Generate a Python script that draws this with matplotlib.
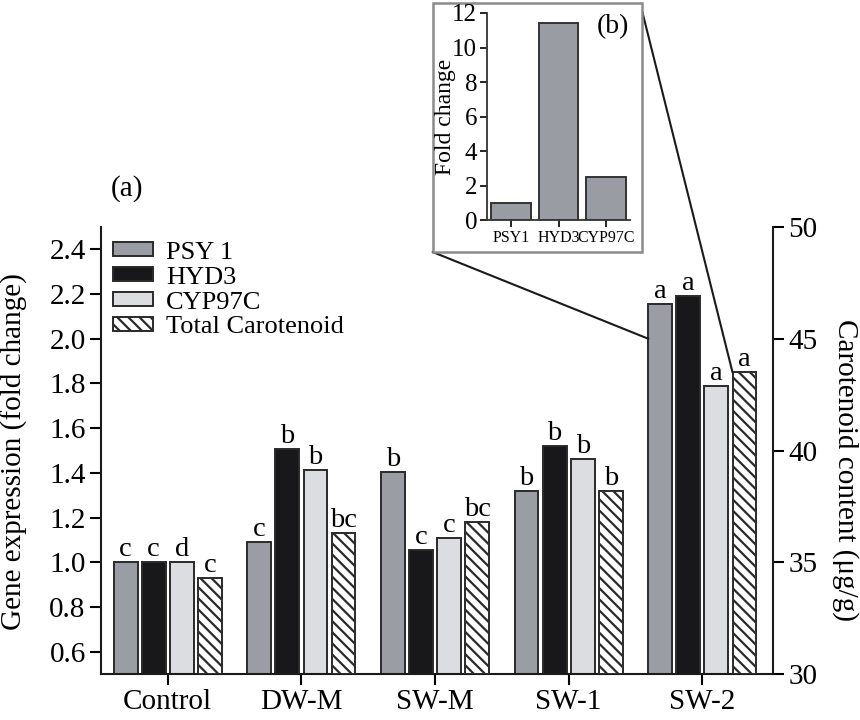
import matplotlib
matplotlib.use("Agg")
import matplotlib.pyplot as plt
from matplotlib.patches import Rectangle, ConnectionPatch
import numpy as np

plt.rcParams['font.family'] = ['Liberation Serif', 'DejaVu Serif']
plt.rcParams['hatch.linewidth'] = 1.6

# ---- data ----
groups = ["Control", "DW-M", "SW-M", "SW-1", "SW-2"]
psy1 = [1.00, 1.09, 1.405, 1.317, 2.156]
hyd3 = [1.00, 1.505, 1.055, 1.518, 2.19]
cyp97c = [1.00, 1.415, 1.11, 1.464, 1.79]
total_carotenoid = [34.3, 36.3, 36.8, 38.2, 43.5]   # µg/g (right axis)

letters_psy1 = ["c", "c", "b", "b", "a"]
letters_hyd3 = ["c", "b", "c", "b", "a"]
letters_cyp = ["d", "b", "c", "b", "a"]
letters_total = ["c", "bc", "bc", "b", "a"]

left_ticks = [0.6, 0.8, 1.0, 1.2, 1.4, 1.6, 1.8, 2.0, 2.2, 2.4]
right_ticks = [30, 35, 40, 45, 50]

inset_genes = ["PSY1", "HYD3", "CYP97C"]
inset_fold = [1.0, 11.4, 2.5]
inset_ticks = [0, 2, 4, 6, 8, 10, 12]

# ---- style ----
c_psy = "#9b9da4"
c_hyd = "#18181a"
c_cyp = "#dcdde0"
edge = "#2a2a2a"
pitch = 0.21
width = 0.178
fs_tick = 21
fs_let = 20.5

fig = plt.figure(figsize=(8.6, 7.2), dpi=100)
ax = fig.add_axes([0.1174, 0.0639, 0.7816, 0.6208])
ax.set_xlim(-0.5, 4.53)
ax.set_ylim(0.5, 2.5)
ax2 = ax.twinx()
ax2.set_ylim(30, 50)

x = np.arange(len(groups))
b1 = ax.bar(x - 1.5 * pitch, psy1, width, color=c_psy, edgecolor=edge, lw=1.4, label="PSY 1")
b2 = ax.bar(x - 0.5 * pitch, hyd3, width, color=c_hyd, edgecolor=edge, lw=1.4, label="HYD3")
b3 = ax.bar(x + 0.5 * pitch, cyp97c, width, color=c_cyp, edgecolor=edge, lw=1.4, label="CYP97C")
b4 = ax2.bar(x + 1.5 * pitch, [t - 30 for t in total_carotenoid], width, bottom=30,
             color="white", edgecolor=edge, hatch="\\\\\\", lw=1.4, label="Total Carotenoid")

for xs, vals, labs in [(x - 1.5 * pitch, psy1, letters_psy1),
                       (x - 0.5 * pitch, hyd3, letters_hyd3),
                       (x + 0.5 * pitch, cyp97c, letters_cyp)]:
    for xi, v, l in zip(xs, vals, labs):
        ax.text(xi, v, l, ha="center", va="bottom", fontsize=fs_let)
for xi, v, l in zip(x + 1.5 * pitch, total_carotenoid, letters_total):
    ax2.text(xi, v, l, ha="center", va="bottom", fontsize=fs_let)

for a in (ax, ax2):
    a.spines["top"].set_visible(False)
    for s in a.spines.values():
        s.set_linewidth(1.5)
        s.set_color("#1a1a1a")
ax.spines["right"].set_visible(False)
ax2.spines["left"].set_visible(False)
ax2.spines["bottom"].set_visible(False)

ax.set_xticks(x)
ax.set_xticklabels(groups, fontsize=fs_tick)
ax.set_yticks(left_ticks)
ax.set_yticklabels([f"{t:.1f}" for t in left_ticks], fontsize=fs_tick)
ax2.set_yticks(right_ticks)
ax2.set_yticklabels([str(t) for t in right_ticks], fontsize=fs_tick)
ax.tick_params(axis="both", direction="out", length=8, width=1.5, pad=3)
ax2.tick_params(axis="y", direction="out", length=8, width=1.5, pad=3)

ax.set_ylabel("Gene expression (fold change)", fontsize=21)
ax.yaxis.set_label_coords(-0.129, 0.497)
ax.yaxis.label.set_va("center")
ax2.set_ylabel("Carotenoid content (μg/g)", fontsize=21, rotation=270)
ax2.yaxis.set_label_coords(1.107, 0.456)
ax2.yaxis.label.set_va("center")
ax2.yaxis.label.set_rotation_mode("anchor")

ax.legend([b1, b2, b3, b4], ["PSY 1", "HYD3", "CYP97C", "Total Carotenoid"],
          loc="upper left", bbox_to_anchor=(0.018, 0.967), frameon=False,
          fontsize=19, handlelength=1.5, handleheight=0.45, handletextpad=0.5,
          labelspacing=0.11, borderpad=0, borderaxespad=0)

fig.text(0.1477, 0.7375, "(a)", fontsize=21, ha="center", va="center")

# ---- inset ----
box = Rectangle((0.503, 0.65), 0.244, 0.346, transform=fig.transFigure,
                facecolor="white", edgecolor="#8a8a8a", lw=1.8, zorder=5)
fig.patches.append(box)

axi = fig.add_axes([0.566, 0.694, 0.167, 0.288], zorder=6)
axi.patch.set_alpha(0)
xi = np.arange(len(inset_genes))
axi.bar(xi, inset_fold, 0.84, color="#9a9ca3", edgecolor="#333333", lw=1.4)
axi.set_xlim(-0.52, 2.52)
axi.set_ylim(0, 12)
axi.set_yticks(inset_ticks)
axi.set_yticklabels([str(t) for t in inset_ticks], fontsize=18)
axi.set_xticks(xi)
axi.set_xticklabels(inset_genes, fontsize=11.5)
axi.tick_params(axis="both", direction="out", length=5, width=1.2, pad=2)
axi.spines["top"].set_visible(False)
axi.spines["right"].set_visible(False)
for s in ("left", "bottom"):
    axi.spines[s].set_linewidth(1.3)
    axi.spines[s].set_color("#333333")
axi.set_ylabel("Fold change", fontsize=17)
axi.yaxis.set_label_coords(-0.29, 0.5)
axi.yaxis.label.set_va("center")
axi.text(0.877, 0.932, "(b)", transform=axi.transAxes, fontsize=20, ha="center", va="center")

# connector lines from inset box to SW-2 group
con1 = ConnectionPatch(xyA=(0.503, 0.65), coordsA=fig.transFigure,
                       xyB=(x[4] - 1.5 * pitch - width / 2, 2.0), coordsB=ax.transData,
                       color="#1a1a1a", lw=1.5)
con2 = ConnectionPatch(xyA=(0.747, 0.983), coordsA=fig.transFigure,
                       xyB=(x[4] + 1.5 * pitch - width / 2, total_carotenoid[4]), coordsB=ax2.transData,
                       color="#1a1a1a", lw=1.5)
fig.add_artist(con1)
fig.add_artist(con2)

fig.savefig("out.png", dpi=100)
